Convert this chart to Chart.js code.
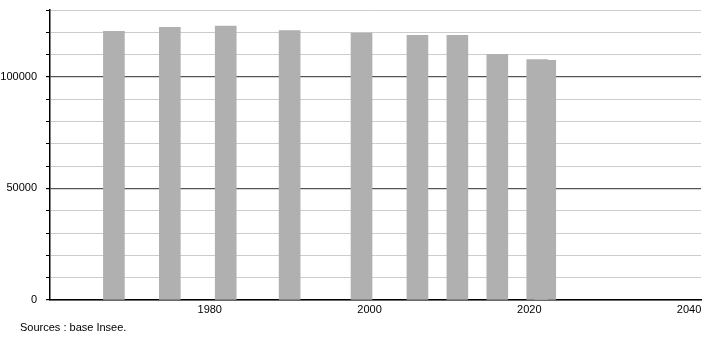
<!DOCTYPE html>
<html>
<head>
<meta charset="utf-8">
<script src="https://cdn.jsdelivr.net/npm/chart.js@4/dist/chart.umd.min.js"></script>
<style>
  html, body { margin: 0; padding: 0; background: #fff; }
  #wrap { position: relative; width: 710px; height: 340px; }
  #src { position: absolute; left: 20px; top: 321px; font: 11px "Liberation Sans", Arial, sans-serif; color: #000; }
</style>
</head>
<body>
<div id="wrap">
  <canvas id="c" width="710" height="340"></canvas>
  <div id="src">Sources : base Insee.</div>
</div>
<script>
const years = [1968, 1975, 1982, 1990, 1999, 2006, 2011, 2016, 2021, 2022];
const population = [120400, 122200, 122800, 120800, 119600, 118700, 118700, 110100, 107800, 107400];
const xTickYears = [1980, 2000, 2020, 2040];
const yLabelValues = [0, 50000, 100000];

Chart.defaults.font.family = '"Liberation Sans", Arial, sans-serif';
Chart.defaults.font.size = 11;
Chart.defaults.color = '#000';

new Chart(document.getElementById('c'), {
  type: 'bar',
  data: {
    datasets: [{
      data: years.map((y, i) => ({ x: y, y: population[i] })),
      backgroundColor: '#b0b0b0',
      borderWidth: 0,
      barThickness: 21
    }]
  },
  options: {
    responsive: false,
    animation: false,
    devicePixelRatio: 1,
    layout: { padding: { left: 0, right: 9, top: 10, bottom: 0 } },
    plugins: { legend: { display: false }, tooltip: { enabled: false } },
    scales: {
      x: {
        type: 'linear',
        offset: false,
        min: 1960,
        max: 2041.5,
        afterBuildTicks: s => { s.ticks = xTickYears.map(v => ({ value: v })); },
        afterFit: s => { s.height = 40; s.paddingLeft = 0; s.paddingRight = 0; },
        grid: { display: false, drawTicks: false },
        border: { display: true, color: '#000', width: 1.5 },
        ticks: { padding: 3, maxRotation: 0, autoSkip: false, callback: v => String(v) }
      },
      y: {
        min: 0,
        max: 130000,
        afterFit: s => { s.width = 50; s.paddingTop = 0; s.paddingBottom = 0; },
        ticks: {
          stepSize: 10000,
          padding: 9,
          callback: v => yLabelValues.includes(v) ? String(v) : ''
        },
        grid: {
          color: ctx => (ctx.tick && ctx.tick.value % 50000 === 0) ? '#555' : '#cccccc',
          lineWidth: ctx => (ctx.tick && ctx.tick.value % 50000 === 0) ? 1.2 : 1,
          tickColor: '#000',
          tickLength: 4
        },
        border: { display: true, color: '#000', width: 1.5 }
      }
    }
  }
});
</script>
</body>
</html>
